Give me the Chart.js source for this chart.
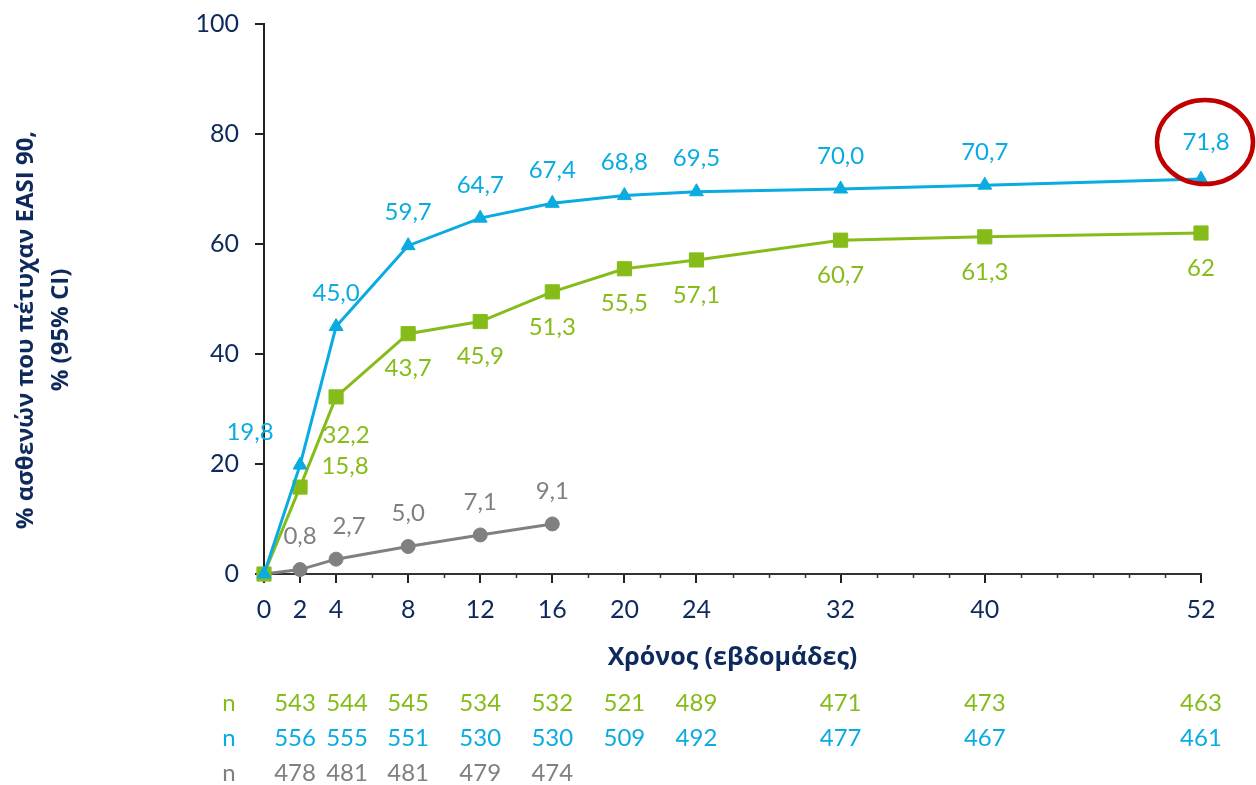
<!DOCTYPE html>
<html>
<head>
<meta charset="utf-8">
<script src="https://cdn.jsdelivr.net/npm/chart.js@4"></script>
<style>
  html, body { margin: 0; padding: 0; background: #ffffff; }
  #wrap { width: 1256px; height: 785px; position: relative; }
</style>
</head>
<body>
<div id="wrap"><canvas id="chart" width="1256" height="785"></canvas></div>
<script>
// Weeks of follow-up
const weeks = [0, 2, 4, 8, 12, 16, 20, 24, 32, 40, 52];
const grayWeeks = [0, 2, 4, 8, 12, 16];

// % of patients reaching EASI 90
const blueValues = [0, 19.8, 45.0, 59.7, 64.7, 67.4, 68.8, 69.5, 70.0, 70.7, 71.8];
const greenValues = [0, 15.8, 32.2, 43.7, 45.9, 51.3, 55.5, 57.1, 60.7, 61.3, 62];
const grayValues = [0, 0.8, 2.7, 5.0, 7.1, 9.1];

// Decimals shown in each point label
const blueDecimals = [1, 1, 1, 1, 1, 1, 1, 1, 1, 1, 1];
const greenDecimals = [1, 1, 1, 1, 1, 1, 1, 1, 1, 1, 0];
const grayDecimals = [1, 1, 1, 1, 1, 1];

// Patients at risk (n) per week
const nWeeks = [2, 4, 8, 12, 16, 20, 24, 32, 40, 52];
const greenN = [543, 544, 545, 534, 532, 521, 489, 471, 473, 463];
const blueN = [556, 555, 551, 530, 530, 509, 492, 477, 467, 461];
const grayN = [478, 481, 481, 479, 474];

// Axis ticks
const xTickWeeks = [0, 2, 4, 8, 12, 16, 20, 24, 32, 40, 52];
const yTickStep = 20;

const xTitle = 'Χρόνος (εβδομάδες)';
const yTitleLines = ['% ασθενών που πέτυχαν EASI 90,', '% (95% CI)'];

const BLUE = '#0AABE1';
const GREEN = '#86BC1A';
const GRAY = '#808080';
const NAVY = '#0E2A5C';
const FONT = 'Lato, "Open Sans", sans-serif';
const TITLE_FONT = '"Open Sans", "Noto Sans", sans-serif';

const toPoints = (xs, ys) => xs.map((x, i) => ({ x: x, y: ys[i] }));
const fmt = (v, d) => v.toFixed(d).replace('.', ',');

// Value labels next to each marker
const pointLabels = {
  id: 'pointLabels',
  afterDatasetsDraw(chart) {
    const ctx = chart.ctx;
    ctx.save();
    ctx.font = '24px ' + FONT;
    ctx.textAlign = 'center';
    ctx.textBaseline = 'middle';
    chart.data.datasets.forEach((ds, i) => {
      const meta = chart.getDatasetMeta(i);
      meta.data.forEach((pt, j) => {
        if (j === 0) return;
        const v = ds.data[j].y;
        const shift = (ds.labelShift && ds.labelShift[j]) || [0, 0];
        ctx.fillStyle = ds.borderColor;
        ctx.fillText(fmt(v, ds.decimals[j]), pt.x + shift[0], pt.y + ds.labelOffset + shift[1]);
      });
    });
    ctx.restore();
  }
};

// Minor ticks every 2 weeks, n table under the axis, y title, highlight ring
const extras = {
  id: 'extras',
  afterDraw(chart) {
    const ctx = chart.ctx;
    const xs = chart.scales.x;
    const area = chart.chartArea;
    ctx.save();

    // minor ticks
    ctx.strokeStyle = '#333333';
    ctx.lineWidth = 1.5;
    for (let w = 2; w <= 52; w += 2) {
      if (xTickWeeks.includes(w)) continue;
      const px = Math.round(xs.getPixelForValue(w)) + 0.5;
      ctx.beginPath();
      ctx.moveTo(px, area.bottom);
      ctx.lineTo(px, area.bottom + 4);
      ctx.stroke();
    }

    // n table
    const colShift = { 2: -5, 4: 11 };
    const rows = [
      { color: GREEN, weeks: nWeeks, values: greenN, y: 703 },
      { color: BLUE, weeks: nWeeks, values: blueN, y: 738 },
      { color: GRAY, weeks: nWeeks.slice(0, grayN.length), values: grayN, y: 773 }
    ];
    ctx.font = '24px ' + FONT;
    ctx.textAlign = 'center';
    ctx.textBaseline = 'middle';
    rows.forEach(r => {
      ctx.fillStyle = r.color;
      ctx.fillText('n', 229, r.y);
      r.values.forEach((n, k) => {
        const w = r.weeks[k];
        ctx.fillText(String(n), xs.getPixelForValue(w) + (colShift[w] || 0), r.y);
      });
    });

    // y axis title, two rotated lines
    ctx.fillStyle = NAVY;
    ctx.font = 'bold 24px ' + TITLE_FONT;
    ctx.translate(0, 330);
    ctx.rotate(-Math.PI / 2);
    ctx.fillText(yTitleLines[0], 0, 26);
    ctx.fillText(yTitleLines[1], 0, 61);
    ctx.setTransform(1, 0, 0, 1, 0, 0);

    // red ring around the last blue value
    const blueMeta = chart.getDatasetMeta(0);
    const last = blueMeta.data[blueMeta.data.length - 1];
    ctx.strokeStyle = '#C00000';
    ctx.lineWidth = 4.5;
    ctx.beginPath();
    ctx.ellipse(last.x + 4, last.y - 37, 48, 42, 0, 0, Math.PI * 2);
    ctx.stroke();

    ctx.restore();
  }
};

new Chart(document.getElementById('chart'), {
  type: 'line',
  data: {
    datasets: [
      {
        data: toPoints(weeks, blueValues),
        decimals: blueDecimals,
        borderColor: BLUE,
        backgroundColor: BLUE,
        borderWidth: 3,
        pointStyle: 'triangle',
        pointRadius: 8,
        pointBorderWidth: 1,
        labelOffset: -33,
        labelShift: { 1: [-50, 0], 10: [5, -4] },
        clip: false
      },
      {
        data: toPoints(weeks, greenValues),
        decimals: greenDecimals,
        borderColor: GREEN,
        backgroundColor: GREEN,
        borderWidth: 3,
        pointStyle: 'rect',
        pointRadius: 10,
        pointBorderWidth: 1,
        labelOffset: 35,
        labelShift: { 1: [45, -56], 2: [10, 3] },
        clip: false
      },
      {
        data: toPoints(grayWeeks, grayValues),
        decimals: grayDecimals,
        borderColor: GRAY,
        backgroundColor: GRAY,
        borderWidth: 3,
        pointStyle: 'circle',
        pointRadius: 7,
        pointBorderWidth: 1,
        labelOffset: -33,
        labelShift: { 2: [13, 0] },
        clip: false
      }
    ]
  },
  options: {
    responsive: false,
    animation: false,
    layout: { padding: { left: 0, right: 55, top: 24, bottom: 0 } },
    plugins: {
      legend: { display: false },
      tooltip: { enabled: false }
    },
    scales: {
      x: {
        type: 'linear',
        min: 0,
        max: 52,
        afterBuildTicks(scale) {
          scale.ticks = xTickWeeks.map(v => ({ value: v }));
        },
        afterFit(scale) { scale.height = 211; },
        ticks: {
          autoSkip: false,
          maxRotation: 0,
          padding: 12,
          color: NAVY,
          font: { family: FONT, size: 25 }
        },
        grid: {
          drawOnChartArea: false,
          tickLength: 9,
          color: '#222222',
          lineWidth: 2
        },
        border: { color: '#333333', width: 2 },
        title: {
          display: true,
          text: xTitle,
          color: NAVY,
          font: { family: TITLE_FONT, size: 25, weight: 'bold', lineHeight: 1.2 },
          padding: { top: 0, bottom: 112 }
        }
      },
      y: {
        min: 0,
        max: 100,
        afterFit(scale) {
          scale.width = 264;
          scale.paddingTop = 0;
        },
        ticks: {
          stepSize: yTickStep,
          padding: 16,
          color: NAVY,
          font: { family: FONT, size: 25 }
        },
        grid: {
          drawOnChartArea: false,
          tickLength: 9,
          color: '#222222',
          lineWidth: 2
        },
        border: { color: '#222222', width: 2 }
      }
    }
  },
  plugins: [pointLabels, extras]
});
</script>
</body>
</html>
